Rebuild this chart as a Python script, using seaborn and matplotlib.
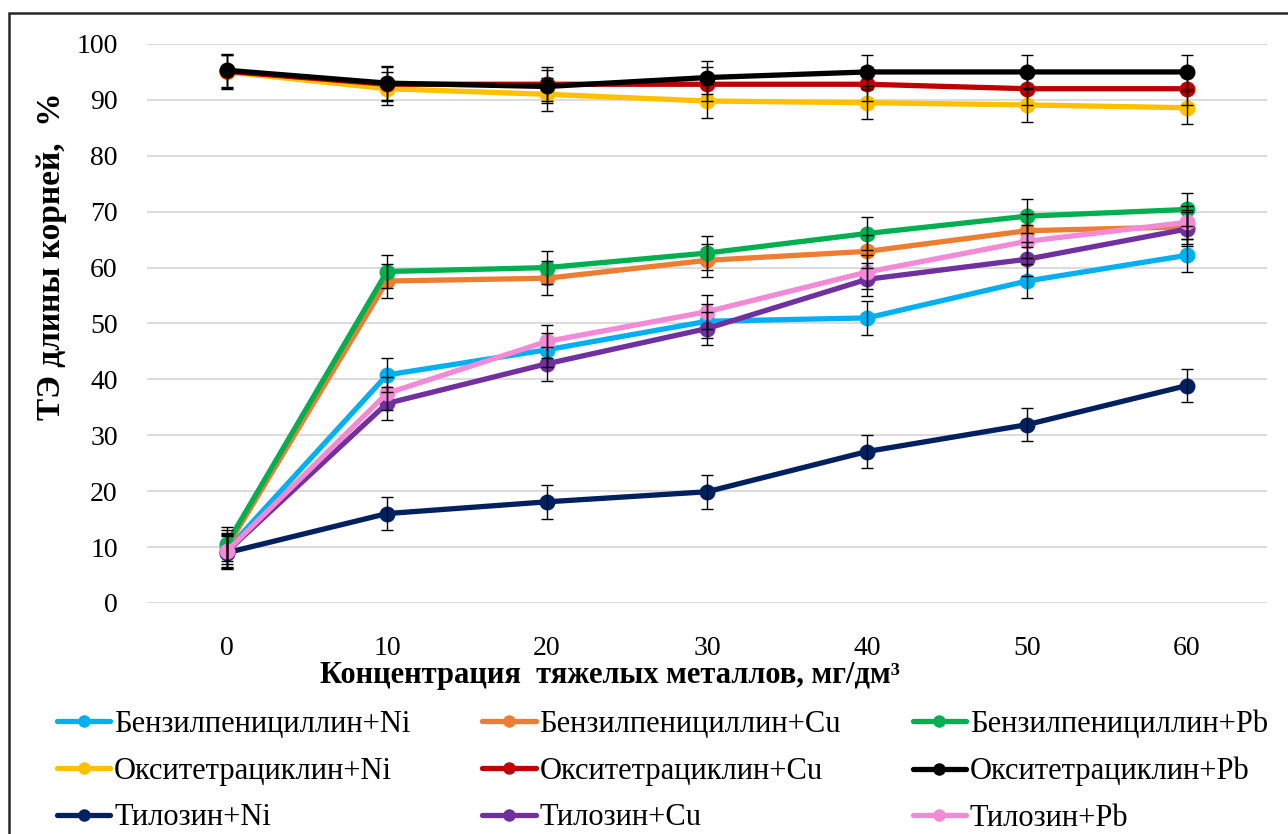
import matplotlib
matplotlib.use("Agg")
import matplotlib.pyplot as plt
from matplotlib.lines import Line2D
from matplotlib.patches import Rectangle
import seaborn as sns
import pandas as pd

# ---------------- data ----------------
concentrations = [0, 10, 20, 30, 40, 50, 60]

series_names = [
    "Бензилпенициллин+Ni", "Бензилпенициллин+Cu", "Бензилпенициллин+Pb",
    "Окситетрациклин+Ni", "Окситетрациклин+Cu", "Окситетрациклин+Pb",
    "Тилозин+Ni", "Тилозин+Cu", "Тилозин+Pb",
]

benz_ni = [9.5, 40.8, 45.3, 50.4, 51.0, 57.6, 62.2]
benz_cu = [10.0, 57.6, 58.1, 61.3, 62.9, 66.6, 67.3]
benz_pb = [10.6, 59.3, 60.0, 62.6, 66.1, 69.2, 70.4]
oxy_ni = [95.0, 92.0, 91.0, 89.8, 89.5, 89.1, 88.6]
oxy_cu = [95.1, 92.8, 92.8, 92.8, 92.8, 92.0, 92.0]
oxy_pb = [95.3, 93.0, 92.4, 94.0, 95.0, 95.0, 95.0]
tyl_ni = [9.0, 16.0, 18.1, 19.9, 27.1, 31.9, 38.9]
tyl_cu = [9.2, 35.7, 42.8, 49.1, 57.9, 61.5, 66.9]
tyl_pb = [9.3, 37.5, 46.8, 52.1, 59.2, 64.7, 68.1]

errors = [3.0, 3.0, 3.0, 3.0, 3.0, 3.0, 3.0]

colors = ["#00B0F0", "#ED7D31", "#00B050",
          "#FFC000", "#C00000", "#000000",
          "#002060", "#7030A0", "#F28AD6"]

values = [benz_ni, benz_cu, benz_pb, oxy_ni, oxy_cu, oxy_pb, tyl_ni, tyl_cu, tyl_pb]

y_ticks = [0, 10, 20, 30, 40, 50, 60, 70, 80, 90, 100]

x_label = "Концентрация  тяжелых металлов, мг/дм³"
y_label = "ТЭ длины корней,  %"

# ---------------- frame ----------------
rows = []
for name, vals in zip(series_names, values):
    for c, v, e in zip(concentrations, vals, errors):
        rows.append({"conc": c, "val": v, "err": e, "series": name})
df = pd.DataFrame(rows)
palette = dict(zip(series_names, colors))

sns.set_theme(style="white")
plt.rcParams["font.family"] = ["Liberation Serif", "DejaVu Serif"]
plt.rcParams["text.color"] = "black"

W, H = 1288, 834
fig = plt.figure(figsize=(W / 100, H / 100), dpi=100)
ax = fig.add_axes([147 / W, (H - 603) / H, (1267 - 147) / W, (603 - 44) / H])

sns.lineplot(data=df, x="conc", y="val", hue="series", hue_order=series_names,
             palette=palette, marker="o", markersize=11.5, markeredgewidth=0,
             linewidth=3.8, errorbar=None, legend=False, ax=ax, zorder=3)

for name in series_names:
    sub = df[df["series"] == name]
    ax.errorbar(sub["conc"], sub["val"], yerr=sub["err"], fmt="none",
                ecolor="black", elinewidth=1.0, capsize=4.5, capthick=1.0,
                zorder=4)

ax.set_xlim(-5, 65)
ax.set_ylim(0, 100)
ax.set_xticks(concentrations)
ax.set_yticks(y_ticks)
ax.tick_params(axis="both", length=0, labelsize=20, colors="black")
ax.tick_params(axis="y", pad=21)
ax.tick_params(axis="x", pad=24)
ax.yaxis.grid(True, color="#D9D9D9", linewidth=1.3)
ax.xaxis.grid(False)
for s in ax.spines.values():
    s.set_visible(False)
ax.set_xlabel("")
ax.set_ylabel("")

fig.text(610 / W, 1 - 676 / H, x_label, ha="center", va="center",
         fontsize=22, fontweight="bold", color="black")
fig.text(52 / W, 1 - 256 / H, y_label, ha="center", va="center",
         rotation=90, fontsize=24, fontweight="bold", color="black")

# legend (row-wise order)
handles = [Line2D([0], [0], color=c, lw=3.8, marker="o", markersize=9,
                  markeredgewidth=0) for c in colors]
order = [0, 3, 6, 1, 4, 7, 2, 5, 8]
leg = fig.legend([handles[i] for i in order], [series_names[i] for i in order],
                 ncol=3, loc="upper left", bbox_to_anchor=(57 / W, 1 - 710 / H),
                 frameon=False, fontsize=22, handlelength=1.75, handletextpad=0.12,
                 columnspacing=2.35, labelspacing=0.58, borderaxespad=0,
                 borderpad=0)
for t in leg.get_texts():
    t.set_color("black")

fig.patches.append(Rectangle((9 / W, -0.01), 1.2, 1 - 13 / H + 0.01,
                             transform=fig.transFigure, fill=False,
                             edgecolor="#262626", linewidth=1.8))

fig.savefig("out.png", dpi=100)
